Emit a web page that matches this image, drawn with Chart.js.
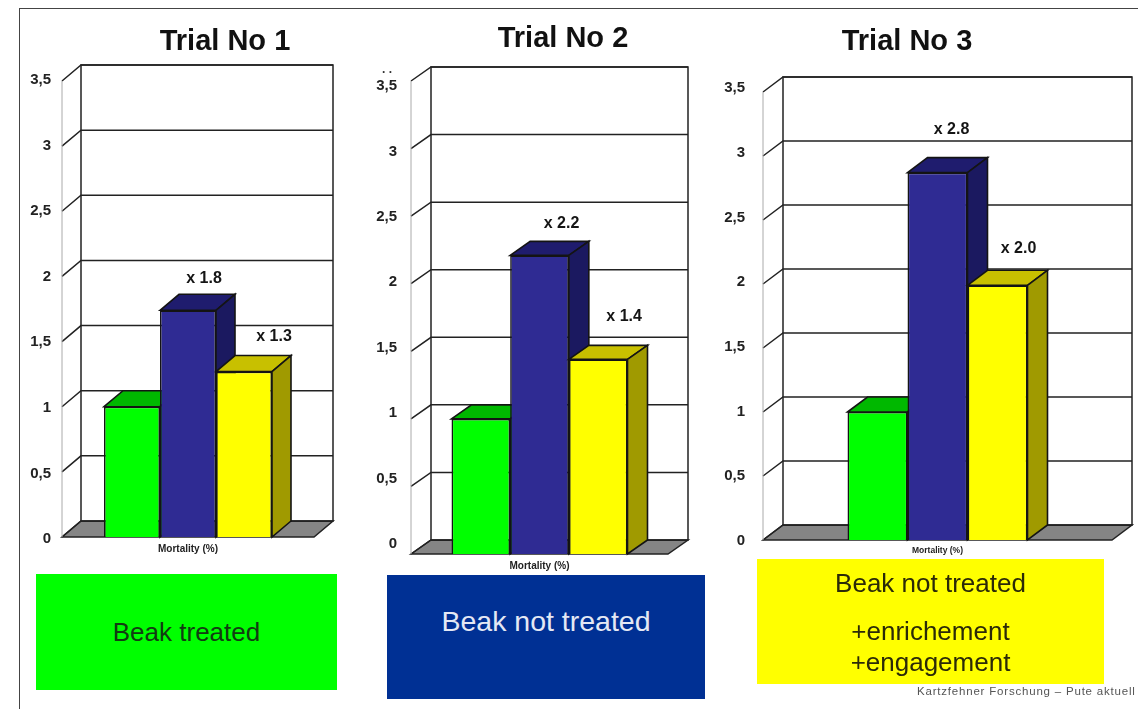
<!DOCTYPE html>
<html>
<head>
<meta charset="utf-8">
<title>Trial No 1-3</title>
<script src="https://cdn.jsdelivr.net/npm/chart.js@4"></script>
<style>
  html, body { margin: 0; padding: 0; background: #fff; }
  body { width: 1138px; height: 718px; position: relative; overflow: hidden; font-family: "Liberation Sans", Arial, sans-serif; }
  #frame { position: absolute; left: 19px; top: 8px; width: 1119px; height: 700px; border-left: 1px solid #444; border-top: 1px solid #444; }
  canvas { position: absolute; }
  .title { position: absolute; width: 300px; text-align: center; font-weight: bold; font-size: 29px; color: #111; line-height: 30px; }
  .box { position: absolute; }
  .box div { position: absolute; left: 0; right: 0; text-align: center; font-size: 26px; line-height: 28px; }
  #credit { position: absolute; left: 917px; top: 685px; font-size: 11.5px; letter-spacing: 0.8px; color: #555; white-space: nowrap; }
  #dots { position: absolute; left: 382px; top: 62px; font-size: 12px; font-weight: bold; color: #333; }
</style>
</head>
<body>
<div id="frame"></div>

<canvas id="chart1"></canvas>
<canvas id="chart2"></canvas>
<canvas id="chart3"></canvas>

<div class="title" style="left:75px;top:25px" id="title1"></div>
<div class="title" style="left:413px;top:22px" id="title2"></div>
<div class="title" style="left:757px;top:25px" id="title3"></div>
<div id="dots">. .</div>

<div class="box" style="left:36px;top:574px;width:301px;height:116px;background:#00ff00;color:#123c12">
  <div style="top:44px">Beak treated</div>
</div>
<div class="box" style="left:387px;top:575px;width:318px;height:124px;background:#003094;color:#e4e8f4">
  <div style="top:32px;font-size:28.5px">Beak not treated</div>
</div>
<div class="box" style="left:757px;top:559px;width:347px;height:125px;background:#ffff00;color:#2b2a08">
  <div style="top:10px">Beak not treated</div>
  <div style="top:58px">+enrichement</div>
  <div style="top:89px">+engagement</div>
</div>
<div id="credit">Kartzfehner Forschung – Pute aktuell</div>

<script>
// Data
const trialTitles = ["Trial No 1", "Trial No 2", "Trial No 3"];
const xLabel = ["Mortality (%)"];
const tickValues = [0, 0.5, 1, 1.5, 2, 2.5, 3, 3.5];
const tickLabels = ["0", "0,5", "1", "1,5", "2", "2,5", "3", "3,5"];
const beakTreated = [1.0, 1.0, 1.0];
const beakNotTreated = [1.74, 2.21, 2.87];
const beakEnriched = [1.27, 1.44, 1.99];
const notTreatedFactors = ["x 1.8", "x 2.2", "x 2.8"];
const enrichedFactors = ["x 1.3", "x 1.4", "x 2.0"];

// Where each panel sits on the page
const panels = [
  { id: "chart1", left: 62, right: 314, top: 81, bottom: 537, dx: 19, dy: 16, barShare: 168 / 252, labelTop: 80, labelBottom: 539, labelPad: 11,
    padRight: 31, extraH: 0, xFont: 10, blueLabel: [16, -32], yellowLabel: [30, -35] },
  { id: "chart2", left: 411, right: 668, top: 81, bottom: 554, dx: 20, dy: 14, barShare: 176 / 257, labelTop: 86, labelBottom: 544, labelPad: 14,
    padRight: 31, extraH: 0, xFont: 10, blueLabel: [22, -32], yellowLabel: [26, -43] },
  { id: "chart3", left: 763, right: 1112, top: 92, bottom: 540, dx: 20, dy: 15, barShare: 180 / 349, labelTop: 88, labelBottom: 541, labelPad: 18,
    padRight: 24, extraH: 3, xFont: 8.5, blueLabel: [14, -43], yellowLabel: [21, -37] }
];

const faces = ["#00ff00", "#2f2b93", "#ffff00"];
const tops = ["#00b800", "#1f1c6e", "#c8c000"];
const sides = ["#009000", "#1b1960", "#a09a00"];
const edge = "#141414";

function poly(ctx, pts, fill) {
  ctx.beginPath();
  pts.forEach((p, i) => i ? ctx.lineTo(p[0], p[1]) : ctx.moveTo(p[0], p[1]));
  ctx.closePath();
  if (fill) { ctx.fillStyle = fill; ctx.fill(); }
  ctx.stroke();
}

trialTitles.forEach((title, n) => {
  const p = panels[n];
  document.getElementById("title" + (n + 1)).textContent = title;

  const canvasLeft = p.left - 45;
  const canvasTop = p.top - 30;
  const canvasW = p.right + p.padRight - canvasLeft;
  const canvasH = p.bottom + 24 + p.extraH - canvasTop;
  const el = document.getElementById(p.id);
  el.style.left = canvasLeft + "px";
  el.style.top = canvasTop + "px";
  el.style.width = canvasW + "px";
  el.style.height = canvasH + "px";
  el.width = canvasW;
  el.height = canvasH;

  // tick labels in the picture do not line up with the wall, so they get their own axis
  const k = (p.labelBottom - p.labelTop) / 3.5;
  const labelMin = (p.labelBottom - p.bottom) / k;

  const walls3d = {
    id: "walls3d",
    beforeDatasetsDraw(chart) {
      const { ctx, chartArea: a, scales: { y } } = chart;
      const { dx, dy } = p;
      const y0 = y.getPixelForValue(0);
      const yMax = y.getPixelForValue(3.5);
      ctx.save();
      ctx.lineWidth = 1.5;
      ctx.strokeStyle = "#222";
      // floor
      poly(ctx, [[a.left, y0], [a.left + dx, y0 - dy], [a.right + dx, y0 - dy], [a.right, y0]], "#858585");
      // back wall and side wall
      ctx.beginPath();
      ctx.rect(a.left + dx, yMax - dy, a.right - a.left, y0 - yMax);
      ctx.fillStyle = "#fff";
      ctx.fill();
      ctx.stroke();
      y.ticks.forEach(t => {
        const py = y.getPixelForValue(t.value);
        ctx.beginPath();
        ctx.moveTo(a.left, py);
        ctx.lineTo(a.left + dx, py - dy);
        ctx.lineTo(a.right + dx, py - dy);
        ctx.stroke();
      });
      // pale front edge of the side wall
      ctx.strokeStyle = "#aaa";
      ctx.lineWidth = 1;
      ctx.beginPath();
      ctx.moveTo(a.left, y0);
      ctx.lineTo(a.left, yMax);
      ctx.stroke();
      ctx.restore();
    },
    // datasets are drawn left to right below, so the depth faces overlap properly
    beforeDatasetDraw() { return false; },
    afterDatasetsDraw(chart) {
      const { ctx } = chart;
      const { dx, dy } = p;
      chart.data.datasets.forEach((ds, i) => {
        const meta = chart.getDatasetMeta(i);
        const bar = meta.data[0];
        const l = bar.x - bar.width / 2;
        const r = bar.x + bar.width / 2;
        ctx.save();
        ctx.lineWidth = 1.6;
        ctx.strokeStyle = edge;
        poly(ctx, [[l, bar.y], [l + dx, bar.y - dy], [r + dx, bar.y - dy], [r, bar.y]], tops[i]);
        poly(ctx, [[r, bar.y], [r + dx, bar.y - dy], [r + dx, bar.base - dy], [r, bar.base]], sides[i]);
        ctx.restore();
        meta.controller.draw();
      });
      const put = (barIndex, text, off) => {
        const bar = chart.getDatasetMeta(barIndex).data[0];
        ctx.fillText(text, bar.x + off[0], bar.y + off[1]);
      };
      ctx.save();
      ctx.font = "bold 16px 'Liberation Sans', Arial, sans-serif";
      ctx.fillStyle = "#151515";
      ctx.textAlign = "center";
      ctx.textBaseline = "middle";
      put(1, notTreatedFactors[n], p.blueLabel);
      put(2, enrichedFactors[n], p.yellowLabel);
      ctx.restore();
    }
  };

  const dataset = (label, value, i) => ({
    label,
    data: [value],
    yAxisID: "y",
    backgroundColor: faces[i],
    borderColor: edge,
    borderWidth: 1.6,
    categoryPercentage: p.barShare,
    barPercentage: 1
  });

  new Chart(el.getContext("2d"), {
    type: "bar",
    data: {
      labels: xLabel,
      datasets: [
        dataset("Beak treated", beakTreated[n], 0),
        dataset("Beak not treated", beakNotTreated[n], 1),
        dataset("Beak not treated +enrichement +engagement", beakEnriched[n], 2)
      ]
    },
    options: {
      responsive: false,
      animation: false,
      layout: { padding: { top: 30, right: p.padRight, left: 0, bottom: 0 } },
      plugins: { legend: { display: false }, tooltip: { enabled: false } },
      scales: {
        x: {
          grid: { display: false, drawTicks: false },
          border: { display: false },
          ticks: { color: "#222", font: { size: p.xFont, weight: "bold", family: "'Liberation Sans', Arial, sans-serif" }, padding: 6, maxRotation: 0 },
          afterFit(axis) { axis.height = 24; }
        },
        y: {
          min: 0, max: 3.5,
          grid: { display: false, drawTicks: false },
          border: { display: false },
          ticks: { display: false, stepSize: 0.5 },
          afterFit(axis) { axis.width = 0; }
        },
        yLabels: {
          position: "left",
          min: labelMin, max: 3.5 + (p.labelTop - p.top) / k,
          grid: { display: false, drawTicks: false },
          border: { display: false },
          afterBuildTicks(axis) { axis.ticks = tickValues.map(value => ({ value })); },
          ticks: {
            autoSkip: false,
            padding: p.labelPad,
            color: "#222",
            font: { size: 15, weight: "bold", family: "'Liberation Sans', Arial, sans-serif" },
            callback: (value, i) => tickLabels[i]
          },
          afterFit(axis) { axis.width = 45; }
        }
      }
    },
    plugins: [walls3d]
  });
});
</script>
</body>
</html>
